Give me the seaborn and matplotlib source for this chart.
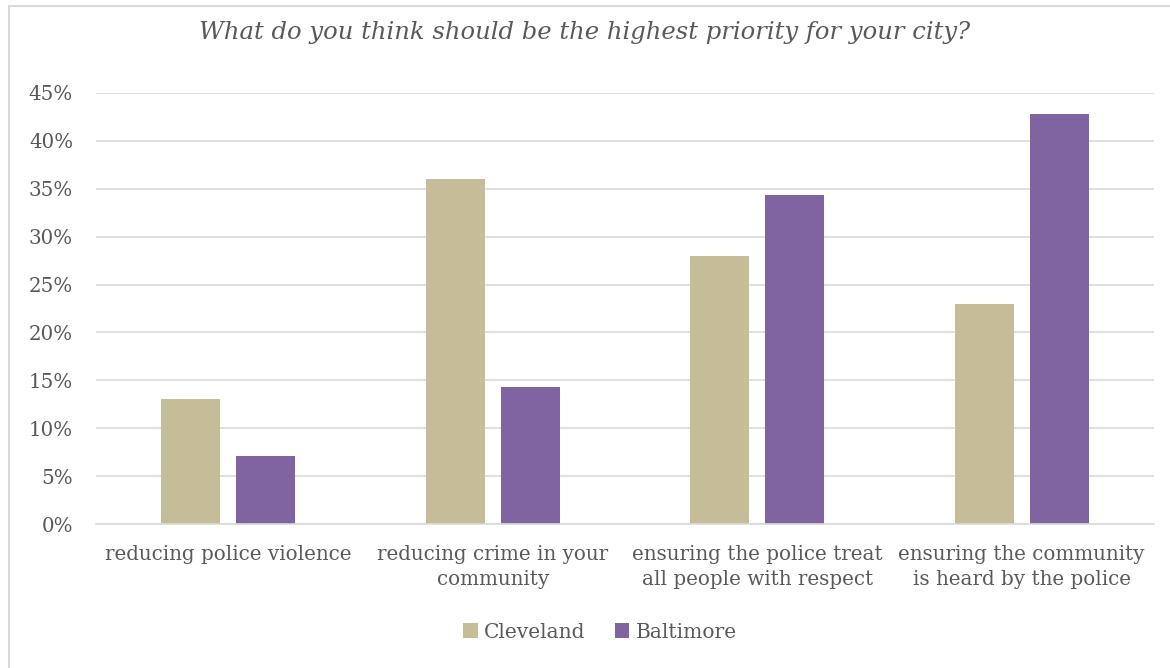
import pandas as pd
import matplotlib
matplotlib.use("Agg")
import matplotlib.pyplot as plt
import seaborn as sns
from matplotlib.ticker import PercentFormatter

categories = [
    "reducing police violence",
    "reducing crime in your\ncommunity",
    "ensuring the police treat\nall people with respect",
    "ensuring the community\nis heard by the police",
]
cities = ["Cleveland", "Baltimore"]
cleveland = [0.13, 0.36, 0.28, 0.23]
baltimore = [0.071, 0.143, 0.343, 0.428]
y_ticks = [0, 0.05, 0.10, 0.15, 0.20, 0.25, 0.30, 0.35, 0.40, 0.45]

df = pd.DataFrame({
    "priority": categories * 2,
    "share": cleveland + baltimore,
    "city": [cities[0]] * 4 + [cities[1]] * 4,
})

sns.set_style("white")
plt.rcParams["font.family"] = ["DejaVu Serif"]
TXT = "#595959"
GRID = "#D9D9D9"

fig = plt.figure(figsize=(11.7, 6.68), dpi=100)
ax = fig.add_axes([96 / 1170, 144 / 668, 1058 / 1170, 431 / 668])

sns.barplot(data=df, x="priority", y="share", hue="city", order=categories,
            hue_order=cities, palette=["#C4BD97", "#8064A2"], saturation=1,
            width=0.567, gap=0.21, linewidth=0, ax=ax, legend=True,
            errorbar=None)

ax.set_ylim(0, 0.45)
ax.set_xlim(-0.5, 3.5)
ax.set_yticks(y_ticks)
ax.yaxis.set_major_formatter(PercentFormatter(1.0, decimals=0))
ax.grid(axis="y", color=GRID, lw=1.2)
ax.set_axisbelow(True)
for s in ["top", "right", "left"]:
    ax.spines[s].set_visible(False)
ax.spines["bottom"].set_color(GRID)
ax.spines["bottom"].set_linewidth(1.2)
ax.tick_params(axis="both", length=0, colors=TXT, labelsize=14.3)
ax.tick_params(axis="y", pad=16.5)
ax.tick_params(axis="x", pad=15)
for lbl in ax.get_xticklabels():
    lbl.set_linespacing(1.4)
ax.set_xlabel("")
ax.set_ylabel("")

fig.text(585 / 1170, 1 - 33 / 668,
         "What do you think should be the highest priority for your city?",
         ha="center", va="center", style="italic", fontsize=17.5, color=TXT)

leg = ax.legend(loc="center", bbox_to_anchor=(600 / 1170, 1 - 632 / 668),
                bbox_transform=fig.transFigure, ncol=2, frameon=False,
                fontsize=14.5, handlelength=0.7, handleheight=0.7,
                handletextpad=0.3, columnspacing=1.5, labelcolor=TXT)

# chart-area border (left and top edges visible in the crop)
fig.add_artist(plt.Line2D([8.5 / 1170, 8.5 / 1170], [0, 1 - 5.5 / 668],
                          transform=fig.transFigure, color=GRID, lw=1.5))
fig.add_artist(plt.Line2D([8.5 / 1170, 1], [1 - 5.5 / 668, 1 - 5.5 / 668],
                          transform=fig.transFigure, color=GRID, lw=1.5))

fig.savefig("out.png", dpi=100)
